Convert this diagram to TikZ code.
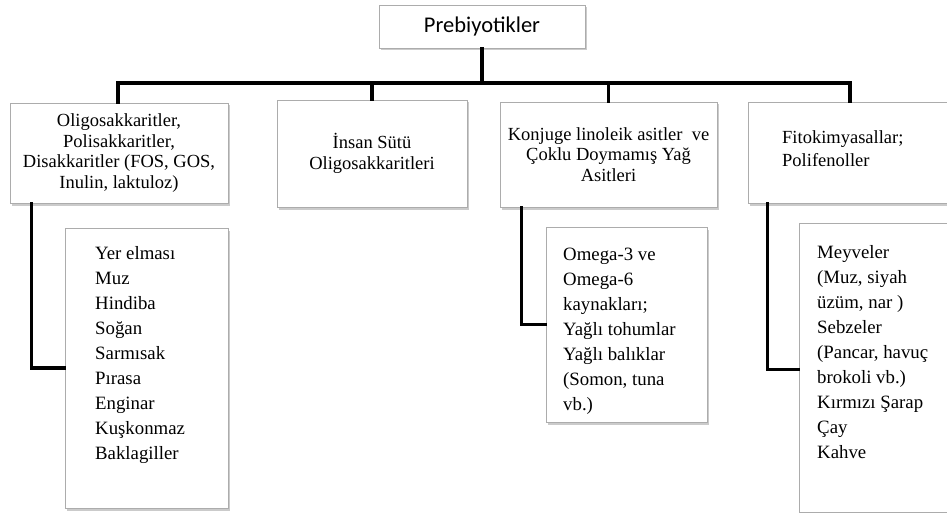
\documentclass[tikz,border=0pt]{standalone}
\usepackage{fontspec}
\setmainfont{Liberation Serif}
\newfontfamily\calibfont{Carlito}
\usetikzlibrary{shadows}
\tikzset{
  box/.style={draw=gray!65, line width=0.8pt, fill=white, inner sep=0pt,
    drop shadow={shadow xshift=1.5pt, shadow yshift=-2.5pt, fill=black!40, opacity=0.5}},
  conn/.style={draw=black, line width=3.5pt, line cap=rect, line join=miter},
  txt/.style={inner sep=0pt, align=left, anchor=north west},
  fmain/.style={font=\fontsize{18.5}{20.7}\selectfont},
  flist/.style={font=\fontsize{18.8}{25}\selectfont}
}
\begin{document}
\begin{tikzpicture}[x=1pt,y=-1pt]
\useasboundingbox (0,0) rectangle (947,513);
\fill[white] (0,0) rectangle (947,513);

\coordinate (j) at (482,83);
\coordinate (bl) at (118,83);
\coordinate (br) at (850,83);

% top box
\node[box, minimum width=206pt, minimum height=43pt, font=\calibfont\fontsize{22.5}{26}\selectfont] (top) at (482,26.5) {Prebiyotikler};

% level 1 boxes
\node[box, minimum width=218pt, minimum height=100pt, align=center, fmain] (b1) at (119,153)
  {Oligosakkaritler,\\Polisakkaritler,\\Disakkaritler (FOS, GOS,\\Inulin, laktuloz)};
\node[box, minimum width=190pt, minimum height=107pt, align=center, fmain] (b2) at (372,153.5)
  {İnsan Sütü\\Oligosakkaritleri};
\node[box, minimum width=217pt, minimum height=105pt, align=center, fmain] (b3) at (608.5,154.5)
  {Konjuge linoleik asitler\ \ ve\\Çoklu Doymamış Yağ\\Asitleri};
\node[box, minimum width=208pt, minimum height=101pt] (b4) at (852,152.5) {};
\node[txt, font=\fontsize{18.5}{23}\selectfont] (b4t) at (782,130) {Fitokimyasallar;\\Polifenoller};

% level 2 boxes
\node[box, minimum width=163pt, minimum height=280pt] (c1) at (146.5,368) {};
\node[txt, flist] (c1t) at (95,246)
  {Yer elması\\Muz\\Hindiba\\Soğan\\Sarmısak\\Pırasa\\Enginar\\Kuşkonmaz\\Baklagiller};
\node[box, minimum width=161pt, minimum height=195pt] (c3) at (626.5,324.5) {};
\node[txt, flist] (c3t) at (563,248)
  {Omega-3 ve\\Omega-6\\kaynakları;\\Yağlı tohumlar\\Yağlı balıklar\\(Somon, tuna\\vb.)};
\node[box, minimum width=162pt, minimum height=289pt] (c4) at (880,367.5) {};
\node[txt, flist] (c4t) at (817,245)
  {Meyveler\\(Muz, siyah\\üzüm, nar )\\Sebzeler\\(Pancar, havuç\\brokoli vb.)\\Kırmızı Şarap\\Çay\\Kahve};

% connectors
\draw[conn] (top.south) -- (j);
\draw[conn] (bl) -- (br);
\draw[conn] (bl) -- (bl |- b1.north);
\draw[conn] (b2.north |- j) -- (b2.north);
\draw[conn] (b3.north |- j) -- (b3.north);
\draw[conn] (br) -- (br |- b4.north);
\draw[conn] ([xshift=22pt]b1.south west) |- (c1.west);
\draw[conn] ([xshift=22pt]b3.south west) |- (c3.west);
\draw[conn] ([xshift=20pt]b4.south west) |- ([yshift=-2pt]c4.west);
\end{tikzpicture}
\end{document}
